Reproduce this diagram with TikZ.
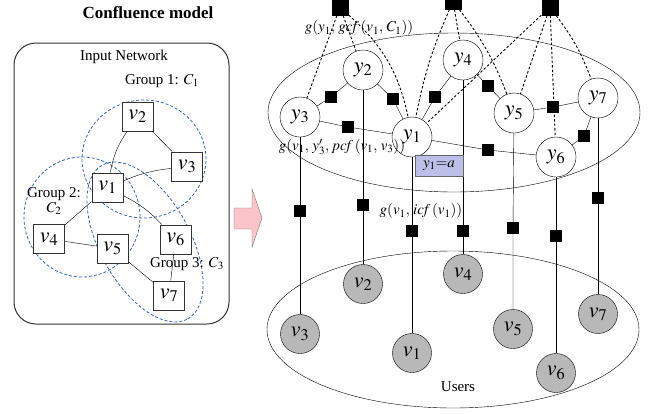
\documentclass[tikz,border=0pt]{standalone}
\usepackage{mathptmx}
\usepackage{fontspec}
\setmainfont{Liberation Serif}
\usetikzlibrary{positioning}

\definecolor{grpblue}{RGB}{55,100,190}
\definecolor{arrpink}{RGB}{250,196,202}
\definecolor{evidfill}{RGB}{188,192,232}
\newcommand{\nodefont}{\fontsize{22}{24}\selectfont}
\newcommand{\lblfont}{\fontsize{15}{17}\selectfont}

\tikzset{
  lat/.style={circle,draw,fill=white,minimum size=40pt,inner sep=0pt,font=\nodefont},
  usr/.style={circle,draw,fill=black!28,minimum size=39pt,inner sep=0pt,font=\nodefont},
  vbox/.style={draw=black!80,line width=1pt,fill=white,minimum width=31pt,minimum height=29pt,inner sep=0pt,font=\nodefont},
  fac/.style={fill=black,minimum size=12pt,inner sep=0pt},
  gfac/.style={fill=black,minimum size=17pt,inner sep=0pt},
  grp/.style={draw=grpblue,dash pattern=on 3pt off 2pt,line width=0.8pt},
  dline/.style={dash pattern=on 2.5pt off 2pt,line width=0.9pt},
  lbl/.style={font=\lblfont,inner sep=1pt}
}

\begin{document}
\begin{tikzpicture}[x=1pt,y=-1pt]
  \useasboundingbox (0,0) rectangle (651,413);

  % input network (left)
  \node[font=\fontsize{17}{19}\selectfont\bfseries] (title) at (148,13) {Confluence model};
  \node[draw=black!80,line width=1pt,rounded corners=22pt,minimum width=215pt,minimum height=281pt] (net) at (121.5,183.5) {};
  \node[lbl] (netname) at (124,57) {Input Network};

  \draw[grp] (144,159) ellipse [x radius=62pt, y radius=59pt];
  \draw[grp] (82,217) ellipse [x radius=58pt, y radius=60pt];
  \draw[grp,rotate around={-61:(145,242)}] (145,242) ellipse [x radius=88pt, y radius=45pt];

  \node[vbox] (v2) at (137.5,116.5) {$v_2$};
  \node[vbox] (v3) at (187,166.5) {$v_3$};
  \node[vbox] (v1) at (107.5,187.5) {$v_1$};
  \node[vbox] (v4) at (49,239) {$v_4$};
  \node[vbox] (v5) at (112.5,248.5) {$v_5$};
  \node[vbox] (v6) at (175.5,239.5) {$v_6$};
  \node[vbox] (v7) at (169,295.5) {$v_7$};

  \draw (v2) to[bend right=12] (v1);
  \draw (v2) -- (v3);
  \draw (v3) to[bend right=8] (v1);
  \draw (v1) -- (v4);
  \draw (v1) to[bend left=10] (v6);
  \draw (v4) -- (v5);
  \draw (v5) -- (v7);
  \draw (v6) -- (v7);

  \node[lbl] (grp1) at (162,81) {Group 1: $C_1$};
  \node[lbl,align=center] (grp2) at (54,201) {Group 2:\\[-2pt]$C_2$};
  \node[lbl] (grp3) at (187,264) {Group 3: $C_3$};

  % block arrow
  \filldraw[draw=black!55,fill=arrpink] (234,208) -- (252,208) -- (252,189) -- (262,218)
    -- (252,247) -- (252,229) -- (234,229) -- cycle;

  % factor graph (right)
  \draw (454,112.5) ellipse [x radius=186pt, y radius=79.5pt];
  \draw (453,329.5) ellipse [x radius=186pt, y radius=78.5pt];

  \node[lat] (y1) at (412,137) {$y_1$};
  \node[lat] (y2) at (363,70) {$y_2$};
  \node[lat] (y3) at (300,117) {$y_3$};
  \node[lat] (y4) at (463,60) {$y_4$};
  \node[lat] (y5) at (514,113) {$y_5$};
  \node[lat] (y6) at (556,157) {$y_6$};
  \node[lat] (y7) at (598,98) {$y_7$};

  \node[usr] (u1) at (412,353) {$v_1$};
  \node[usr] (u2) at (363,284) {$v_2$};
  \node[usr] (u3) at (300,334) {$v_3$};
  \node[usr] (u4) at (463,274) {$v_4$};
  \node[usr] (u5) at (513,329) {$v_5$};
  \node[usr] (u6) at (556,373) {$v_6$};
  \node[usr] (u7) at (598,314) {$v_7$};

  % pairwise factors
  \node[fac] (f23) at (331,97) {};
  \node[fac] (f12) at (393,99) {};
  \node[fac] (f13) at (348,127) {};
  \node[fac] (f14) at (435,97) {};
  \node[fac] (f45) at (488,86) {};
  \node[fac] (f16) at (488,150) {};
  \node[fac] (f57) at (553,107) {};
  \node[fac] (f67) at (584,136) {};
  \draw (y3) -- (f23) -- (y2);
  \draw (y2) -- (f12) -- (y1);
  \draw (y3) -- (f13) -- (y1);
  \draw (y1) -- (f14) -- (y4);
  \draw (y4) -- (f45) -- (y5);
  \draw (y1) -- (f16) -- (y6);
  \draw (y5) -- (f57) -- (y7);
  \draw (y7) -- (f67) -- (y6);

  % attribute factors
  \node[fac] (e1) at (412,231) {};
  \node[fac] (e2) at (363,205) {};
  \node[fac] (e3) at (300,211) {};
  \node[fac] (e4) at (463,231) {};
  \node[fac] (e5) at (513,228) {};
  \node[fac] (e6) at (556,236) {};
  \node[fac] (e7) at (598,198) {};
  \foreach \i in {1,...,7}
    \draw (y\i) -- (e\i) -- (u\i);

  % group factors
  \node[gfac] (g1) at (340,7) {};
  \node[gfac] (g2) at (453,1) {};
  \node[gfac] (g3) at (550,7) {};
  \draw[dline] (g1) -- (y3);
  \draw[dline] (g1) -- (y2);
  \draw[dline] (g1) to[bend left=18] (y1);
  \draw[dline] (g2) to[bend right=6] (y1);
  \draw[dline] (g2) -- (y4);
  \draw[dline] (g2) to[bend left=8] (y5);
  \draw[dline] (g3) -- (y1);
  \draw[dline] (g3) -- (y5);
  \draw[dline] (g3) -- (y6);
  \draw[dline] (g3) to[bend left=8] (y7);

  \node[lbl] (lgcf) at (359,28) {$g(y_1,\, \mathit{gcf}\,(v_1,\, C_1))$};
  \node[lbl] (lpcf) at (342,147) {$g(v_1,\, y'_3,\, \mathit{pcf}\,(v_1,\, v_3))$};
  \node[lbl] (licf) at (421,211) {$g(v_1,\, \mathit{icf}\,(v_1))$};
  \node[lbl,draw=black!60,fill=evidfill,minimum width=48pt,minimum height=21pt] (obs) at (439,165.5) {$y_1{=}a$};
  \node[lbl] (users) at (458,387) {Users};
\end{tikzpicture}
\end{document}
